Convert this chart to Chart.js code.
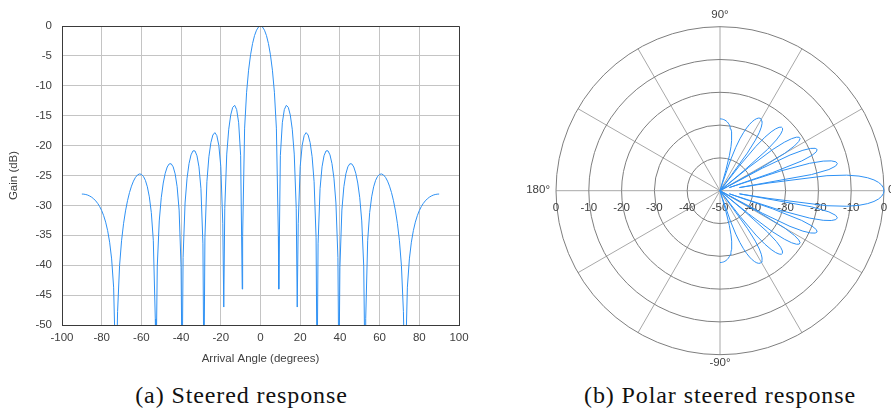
<!DOCTYPE html>
<html>
<head>
<meta charset="utf-8">
<script src="https://cdn.jsdelivr.net/npm/chart.js@4.4.1/dist/chart.umd.min.js"></script>
<style>
  body { margin: 0; background: #fff; width: 891px; height: 410px; position: relative; overflow: hidden; }
  .box { position: absolute; top: 0; height: 370px; }
  .cap { position: absolute; top: 382px; line-height: 26px; text-align: center; font-family: "Liberation Serif", serif; font-size: 24px; letter-spacing: 0.9px; color: #111; white-space: nowrap; }
</style>
</head>
<body>
<div class="box" style="left:0;width:480px"><canvas id="steered"></canvas></div>
<div class="box" style="left:510px;width:381px"><canvas id="polar"></canvas></div>
<div class="cap" style="left:0;width:483px">(a) Steered response</div>
<div class="cap" style="left:560px;width:320px">(b) Polar steered response</div>
<script>
// arrival angle in degrees, and the gain (dB)
let angles = [
  -90, -89, -88, -87, -86, -85, -84, -83, -82, -81,
  -80, -79, -78, -77, -76, -75, -74, -73, -72.7, -72,
  -71, -70, -69, -68, -67, -66, -65, -64, -63, -62,
  -61, -60, -59, -58, -57, -56, -55, -54, -53, -52.7,
  -52, -51, -50, -49, -48, -47, -46, -45, -44, -43,
  -42, -41, -40, -39.5, -39, -38, -37, -36, -35, -34,
  -33, -32, -31, -30, -29, -28.5, -28, -27, -26, -25,
  -24, -23, -22, -21, -20, -19, -18.5, -18, -17, -16,
  -15, -14, -13, -12, -11, -10, -9.2, -9, -8, -7,
  -6, -5, -4, -3, -2, -1,
  0,
  1, 2, 3, 4, 5, 6, 7, 8, 9, 9.2,
  10, 11, 12, 13, 14, 15, 16, 17, 18, 18.5,
  19, 20, 21, 22, 23, 24, 25, 26, 27, 28,
  28.5, 29, 30, 31, 32, 33, 34, 35, 36, 37,
  38, 39, 39.5, 40, 41, 42, 43, 44, 45, 46,
  47, 48, 49, 50, 51, 52, 52.7, 53, 54, 55,
  56, 57, 58, 59, 60, 61, 62, 63, 64, 65,
  66, 67, 68, 69, 70, 71, 72, 72.7, 73, 74,
  75, 76, 77, 78, 79, 80, 81, 82, 83, 84,
  85, 86, 87, 88, 89, 90
];
let gainDb = [
  -28.10, -28.12, -28.18, -28.28, -28.44, -28.64, -28.91, -29.25, -29.67, -30.21,
  -30.87, -31.72, -32.80, -34.22, -36.15, -38.95, -43.67, -56.95, -60, -47.77,
  -40.08, -35.92, -33.07, -30.92, -29.22, -27.86, -26.78, -25.94, -25.32, -24.92,
  -24.74, -24.81, -25.14, -25.80, -26.89, -28.57, -31.20, -35.83, -48.96, -60,
  -40.15, -32.60, -28.72, -26.26, -24.62, -23.58, -23.06, -23.04, -23.55, -24.73,
  -26.88, -30.78, -40.39, -60, -38.73, -29.60, -25.45, -23.00, -21.55, -20.87,
  -20.89, -21.70, -23.55, -27.21, -36.43, -60, -35.41, -26.04, -21.87, -19.50,
  -18.23, -17.83, -18.33, -19.96, -23.50, -33.07, -47, -30.48, -21.42, -17.26,
  -14.87, -13.60, -13.27, -13.98, -16.18, -21.69, -44, -35.18, -17.08, -11.08,
  -7.39, -4.81, -2.94, -1.60, -0.70, -0.17,
  0,
  -0.17, -0.70, -1.60, -2.94, -4.81, -7.39, -11.08, -17.08, -35.18, -44,
  -21.69, -16.18, -13.98, -13.27, -13.60, -14.87, -17.26, -21.42, -30.48, -47,
  -33.07, -23.50, -19.96, -18.33, -17.83, -18.23, -19.50, -21.87, -26.04, -35.41,
  -60, -36.43, -27.21, -23.55, -21.70, -20.89, -20.87, -21.55, -23.00, -25.45,
  -29.60, -38.73, -60, -40.39, -30.78, -26.88, -24.73, -23.55, -23.04, -23.06,
  -23.58, -24.62, -26.26, -28.72, -32.60, -40.15, -60, -48.96, -35.83, -31.20,
  -28.57, -26.89, -25.80, -25.14, -24.81, -24.74, -24.92, -25.32, -25.94, -26.78,
  -27.86, -29.22, -30.92, -33.07, -35.92, -40.08, -47.77, -60, -56.95, -43.67,
  -38.95, -36.15, -34.22, -32.80, -31.72, -30.87, -30.21, -29.67, -29.25, -28.91,
  -28.64, -28.44, -28.28, -28.18, -28.12, -28.10
];

let xTicks = [-100, -80, -60, -40, -20, 0, 20, 40, 60, 80, 100];
let yTicks = [0, -5, -10, -15, -20, -25, -30, -35, -40, -45, -50];
let ringLabels = [0, -10, -20, -30, -40, -50];
let spokeAngles = [0, 30, 60, 90, 120, 150, 180, 210, 240, 270, 300, 330];

let lineColor = '#2e91f4';
let tickFont = { family: 'Liberation Sans', size: 11.5 };
let floorDb = -50;

// ---- (a) steered response ----
let frame = {
  id: 'frame',
  afterDatasetsDraw(chart) {
    let a = chart.chartArea;
    let ctx = chart.ctx;
    ctx.save();
    ctx.strokeStyle = '#3a3a3a';
    ctx.lineWidth = 1;
    ctx.beginPath();
    ctx.moveTo(Math.round(a.left) + 0.5, Math.round(a.top) + 0.5);
    ctx.lineTo(Math.round(a.right) + 0.5, Math.round(a.top) + 0.5);
    ctx.lineTo(Math.round(a.right) + 0.5, Math.round(a.bottom) + 0.5);
    ctx.stroke();
    ctx.restore();
  }
};

let steeredPoints = angles.map((a, i) => ({ x: a, y: gainDb[i] }));

new Chart('steered', {
  type: 'line',
  data: {
    datasets: [{
      data: steeredPoints,
      borderColor: lineColor,
      borderWidth: 1,
      pointRadius: 0,
      tension: 0
    }]
  },
  options: {
    animation: false,
    responsive: true,
    maintainAspectRatio: false,
    layout: { padding: { top: 26, right: 21, left: 0, bottom: 0 } },
    plugins: { legend: { display: false }, tooltip: { enabled: false } },
    scales: {
      x: {
        type: 'linear', min: -100, max: 100,
        afterBuildTicks: (s) => { s.ticks = xTicks.map(v => ({ value: v })); },
        afterFit: (s) => { s.height = 45; },
        ticks: { color: '#404040', font: tickFont, padding: 6, maxRotation: 0, autoSkip: false },
        grid: { color: '#c4c4c4', drawTicks: false },
        border: { color: '#3a3a3a' },
        title: { display: true, text: 'Arrival Angle (degrees)', color: '#404040', font: tickFont, padding: { top: 0, bottom: 4 } }
      },
      y: {
        min: -50, max: 0,
        afterBuildTicks: (s) => { s.ticks = yTicks.map(v => ({ value: v })); },
        afterFit: (s) => { s.width = 62; },
        ticks: { color: '#404040', font: tickFont, padding: 10 },
        grid: { color: '#c4c4c4', drawTicks: false },
        border: { color: '#3a3a3a' },
        title: { display: true, text: 'Gain (dB)', color: '#404040', font: tickFont, padding: { top: 7, bottom: 0 } }
      }
    }
  },
  plugins: [frame]
});

// ---- (b) polar steered response ----
// radius = gain above the -50 dB floor
let polarPoints = angles.map((a, i) => {
  let r = Math.max(gainDb[i] - floorDb, 0);
  let t = a * Math.PI / 180;
  return { x: r * Math.cos(t), y: r * Math.sin(t) };
});

let polarGrid = {
  id: 'polarGrid',
  beforeDatasetsDraw(chart) {
    let xs = chart.scales.x, ys = chart.scales.y;
    let ctx = chart.ctx;
    let cx = xs.getPixelForValue(0), cy = ys.getPixelForValue(0);
    let unit = xs.getPixelForValue(1) - cx;
    let R = -floorDb * unit;
    ctx.save();
    ctx.lineWidth = 1;
    // spokes
    ctx.strokeStyle = '#a8a8a8';
    spokeAngles.forEach(deg => {
      let t = deg * Math.PI / 180;
      ctx.beginPath();
      ctx.moveTo(cx, cy);
      ctx.lineTo(cx + R * Math.cos(t), cy - R * Math.sin(t));
      ctx.stroke();
    });
    // rings
    ctx.strokeStyle = '#7e7e7e';
    ringLabels.forEach(db => {
      let r = (db - floorDb) * unit;
      if (r <= 0) return;
      ctx.beginPath();
      ctx.arc(cx, cy, r, 0, Math.PI * 2);
      ctx.stroke();
    });
    // labels
    ctx.fillStyle = '#404040';
    ctx.font = '11.5px "Liberation Sans"';
    ctx.textBaseline = 'middle';
    ctx.textAlign = 'center';
    ringLabels.forEach(db => {
      let r = (db - floorDb) * unit;
      ctx.fillText(String(db), cx - r, cy + 17);
      if (r > 0) ctx.fillText(String(db), cx + r, cy + 17);
    });
    ctx.fillText('90°', cx, cy - R - 12);
    ctx.fillText('-90°', cx, cy + R + 8);
    ctx.textAlign = 'right';
    ctx.fillText('180°', cx - R - 6, cy - 1);
    ctx.textAlign = 'left';
    ctx.fillText('0°', cx + R + 4, cy - 1);
    ctx.restore();
  }
};

new Chart('polar', {
  type: 'scatter',
  data: {
    datasets: [{
      data: polarPoints,
      showLine: true,
      borderColor: lineColor,
      borderWidth: 1,
      pointRadius: 0,
      clip: false
    }]
  },
  options: {
    animation: false,
    responsive: true,
    maintainAspectRatio: false,
    layout: { padding: { left: 46, right: 7, top: 26.7, bottom: 15.3 } },
    plugins: { legend: { display: false }, tooltip: { enabled: false } },
    scales: {
      x: { display: false, min: -50, max: 50 },
      y: { display: false, min: -50, max: 50 }
    }
  },
  plugins: [polarGrid]
});
</script>
</body>
</html>
